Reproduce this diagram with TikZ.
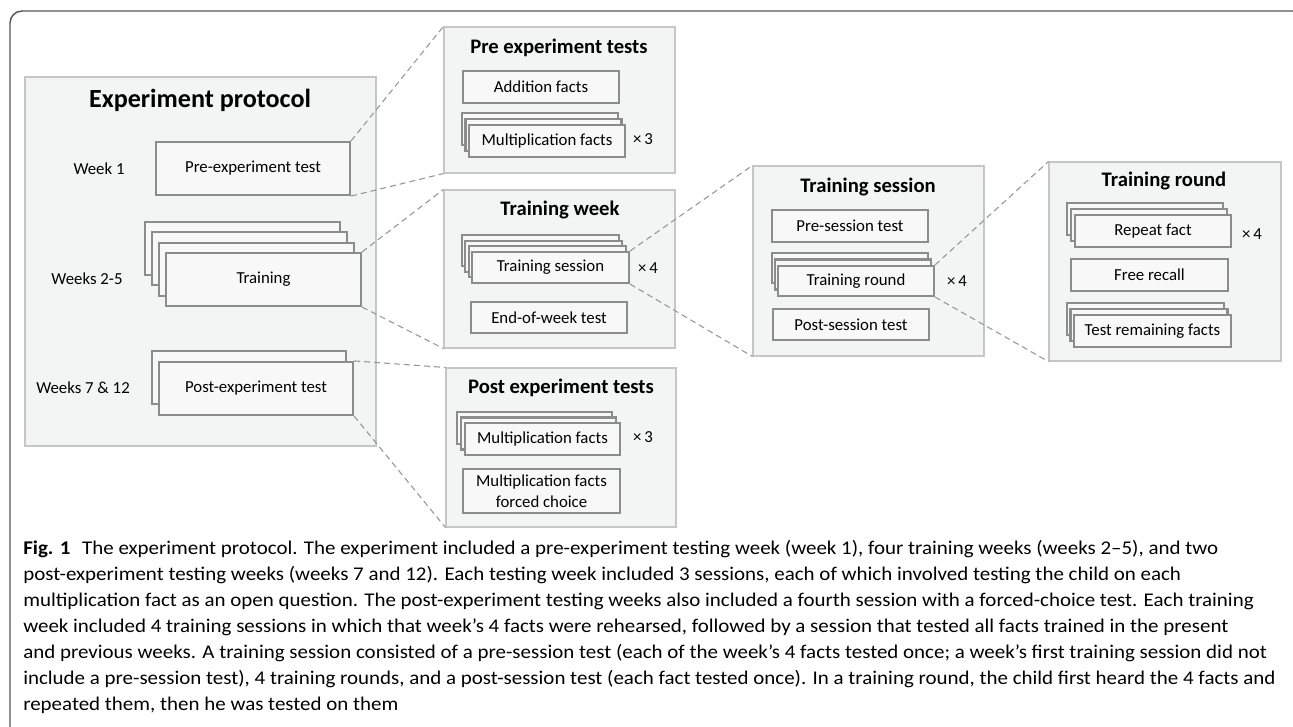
\documentclass[tikz,border=0pt]{standalone}
\usepackage{fontspec}
\setmainfont{Carlito}
\newfontfamily\capfont[FakeStretch=1.08]{Carlito}
\usetikzlibrary{fit}
\definecolor{panelfill}{RGB}{243,244,244}
\definecolor{paneldraw}{RGB}{198,198,198}
\definecolor{boxfill}{RGB}{248,248,248}
\definecolor{boxdraw}{RGB}{140,140,140}
\definecolor{dashc}{RGB}{150,150,150}
\definecolor{framec}{RGB}{85,85,85}
% box from pixel corners: name, x1, y1, x2, y2, text
\newcommand\drawbox[6]{%
  \node[box, minimum width={(#4-#2)*0.75pt}, minimum height={(#5-#3)*0.75pt}]
    (#1) at ({(#2+#4)/2},{(#3+#5)/2}) {#6};}
\begin{document}
\begin{tikzpicture}[x=0.75pt,y=-0.75pt,
  panel/.style={draw=paneldraw, fill=panelfill, line width=0.8pt, inner sep=0pt},
  box/.style={draw=boxdraw, fill=boxfill, line width=1.6pt, inner sep=0pt, align=center, font=\fontsize{12.6}{15.5}\selectfont},
  ttl/.style={inner sep=0pt, font=\bfseries\fontsize{15.5}{18}\selectfont},
  bigttl/.style={inner sep=0pt, font=\bfseries\fontsize{19.6}{22}\selectfont},
  lbl/.style={inner sep=0pt, font=\fontsize{12.6}{15}\selectfont},
  zoomline/.style={draw=dashc, line width=0.8pt, dash pattern=on 4.5pt off 3pt},
  captionline/.style={anchor=base west, inner sep=0pt, font=\capfont\fontsize{14.55}{18}\selectfont}]
\useasboundingbox (0,0) rectangle (1293,726);
\begin{scope}
  \clip (0,0) rectangle (1293,726);
  \draw[framec, line width=1.1pt, rounded corners=9pt] (10,11) rectangle (1305,745);
\end{scope}

% ---------- Experiment protocol panel
\node[panel, fit={(25,77)(376,446)}] (ep) {};
\node[bigttl] (epT) at (200,100) {Experiment protocol};
\node[lbl] (w1) at (99,169) {Week 1};
\node[lbl] (w25) at (87,279) {Weeks 2-5};
\node[lbl] (w712) at (83,388) {Weeks 7 \& 12};
\drawbox{pe}{156}{142}{350}{195}{Pre-experiment test}
\drawbox{tr1}{145}{222}{340}{275}{}
\drawbox{tr2}{152}{232}{347}{285}{}
\drawbox{tr3}{159}{243}{354}{296}{}
\drawbox{tr}{166}{253}{361}{306}{Training}
\drawbox{po1}{152}{351}{346}{404}{}
\drawbox{po}{159}{362}{353}{415}{Post-experiment test}

% ---------- Pre experiment tests
\node[panel, fit={(444,27)(675,173)}] (pet) {};
\node[ttl] (petT) at (559,48) {Pre experiment tests};
\drawbox{add}{463}{71}{619}{103}{Addition facts}
\drawbox{pm1}{462}{113}{618}{145}{}
\drawbox{pm2}{465.5}{119}{621.5}{151}{}
\drawbox{pm}{469}{125}{625}{157}{Multiplication facts}
\node[lbl] (petX) at (643,139) {×\,3};

% ---------- Training week
\node[panel, fit={(444,190)(675,348)}] (tw) {};
\node[ttl] (twT) at (560,210) {Training week};
\drawbox{ts1}{462}{235}{619}{266}{}
\drawbox{ts2}{465.3}{240.7}{622.3}{271.7}{}
\drawbox{ts3}{468.7}{246.3}{625.7}{277.3}{}
\drawbox{ts}{472}{252}{629}{283}{Training session}
\node[lbl] (twX) at (648,268) {×\,4};
\drawbox{eow}{471}{302}{627}{333}{End-of-week test}

% ---------- Post experiment tests
\node[panel, fit={(446,368)(676,527)}] (post) {};
\node[ttl] (postT) at (561,388) {Post experiment tests};
\drawbox{qm1}{457}{412}{612}{444}{}
\drawbox{qm2}{461}{417.5}{616}{449.5}{}
\drawbox{qm}{465}{423}{620}{455}{Multiplication facts}
\node[lbl] (postX) at (643,437) {×\,3};
\drawbox{fc}{463}{469}{620}{513}{Multiplication facts\\forced choice}

% ---------- Training session
\node[panel, fit={(753,166)(984,356)}] (tsp) {};
\node[ttl] (tspT) at (868,187) {Training session};
\drawbox{pst}{772}{210}{928}{242}{Pre-session test}
\drawbox{tro1}{772}{253}{928}{283}{}
\drawbox{tro2}{775}{259.5}{931}{289.5}{}
\drawbox{tro}{778}{266}{934}{296}{Training round}
\node[lbl] (tspX) at (957,281) {×\,4};
\drawbox{post2}{773}{309}{929}{340}{Post-session test}

% ---------- Training round
\node[panel, fit={(1049,162)(1281,361)}] (trp) {};
\node[ttl] (trpT) at (1164,181) {Training round};
\drawbox{rf1}{1067}{203}{1223}{235}{}
\drawbox{rf2}{1071}{209}{1227}{241}{}
\drawbox{rf}{1075}{215}{1231}{247}{Repeat fact}
\node[lbl] (trpX) at (1252,234) {×\,4};
\drawbox{fr}{1071}{259}{1228}{291}{Free recall}
\drawbox{tf1}{1067}{303}{1224}{335}{}
\drawbox{tf2}{1070.5}{309}{1227.5}{341}{}
\drawbox{tf}{1074}{315}{1231}{347}{Test remaining facts}

% ---------- zoom connectors
\draw[zoomline] (pe.north east) -- (pet.north west);
\draw[zoomline] (pe.south east) -- (pet.south west);
\draw[zoomline] (tr.north east) -- (tw.north west);
\draw[zoomline] (tr.south east) -- (tw.south west);
\draw[zoomline] (po.north east) -- (post.north west);
\draw[zoomline] (po.south east) -- (post.south west);
\draw[zoomline] (ts.north east) -- (tsp.north west);
\draw[zoomline] (ts.south east) -- (tsp.south west);
\draw[zoomline] (tro.north east) -- (trp.north west);
\draw[zoomline] (tro.south east) -- (trp.south west);

% ---------- caption
\node[captionline] (c1) at (23,554) {\textbf{Fig. 1}\hspace{0.6em}The experiment protocol. The experiment included a pre-experiment testing week (week 1), four training weeks (weeks 2–5), and two};
\node[captionline] (c2) at (23,580) {post-experiment testing weeks (weeks 7 and 12). Each testing week included 3 sessions, each of which involved testing the child on each};
\node[captionline] (c3) at (23,606) {multiplication fact as an open question. The post-experiment testing weeks also included a fourth session with a forced-choice test. Each training};
\node[captionline] (c4) at (23,632) {week included 4 training sessions in which that week’s 4 facts were rehearsed, followed by a session that tested all facts trained in the present};
\node[captionline] (c5) at (23,658) {and previous weeks. A training session consisted of a pre-session test (each of the week’s 4 facts tested once; a week’s first training session did not};
\node[captionline] (c6) at (23,684) {include a pre-session test), 4 training rounds, and a post-session test (each fact tested once). In a training round, the child first heard the 4 facts and};
\node[captionline] (c7) at (23,710) {repeated them, then he was tested on them};
\end{tikzpicture}
\end{document}
